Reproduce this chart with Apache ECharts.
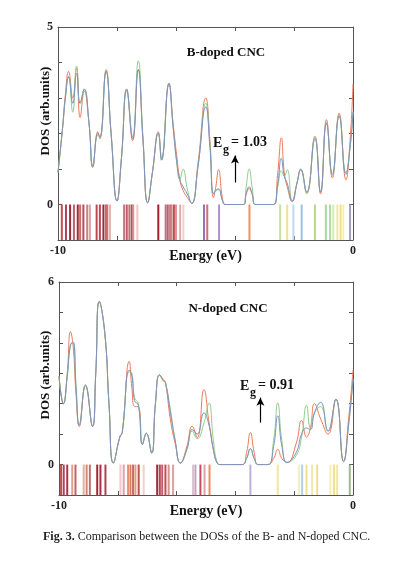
<!DOCTYPE html>
<html>
<head>
<meta charset="utf-8">
<script src="https://cdn.jsdelivr.net/npm/echarts@6/dist/echarts.min.js"></script>
<style>
  html, body { margin: 0; padding: 0; background: #fff; }
  #main { width: 397px; height: 561px; }
</style>
</head>
<body>
<div id="main"></div>
<script>
// ---- B-doped CNC: DOS curves (energy in eV, DOS in arb. units)
var eB = [-10, -9.84, -9.75, -9.64, -9.5, -9.37, -9.25, -9.11, -8.95, -8.82,
  -8.65, -8.58, -8.37, -8.2, -8.0, -7.85, -7.67, -7.47, -7.28, -7.12,
  -6.96, -6.8, -6.6, -6.49, -6.24, -6.1, -5.98, -5.87, -5.76, -5.62,
  -5.47, -5.25, -4.99, -4.85, -4.73, -4.65, -4.56, -4.42, -4.33, -3.71,
  -3.62, -3.52, -3.42, -3.3, -2.7, -2.55, -2.43, -2.33, -2.23, -2.06,
  -1.9, -1.77, -1.57, -1.29, -1.1, -0.9, -0.7, -0.47, -0.24, -0.1, 0];
var bRed = [0.9, 2.2, 3.1, 3.75, 3.0, 3.85, 2.45, 3.2, 2.3, 1.1,
  2.05, 1.85, 3.8, 2.0, 0.1, 1.3, 3.2, 1.8, 3.8, 1.8,
  0.05, 0.9, 2.05, 1.3, 3.42, 2.3, 1.4, 0.7, 0.4, 0.2,
  0.03, 1.2, 3.0, 1.8, 0.2, 0.5, 0.98, 0.15, 0, 0,
  0.3, 0.45, 0.3, 0, 0, 0.9, 1.88, 0.9, 0.5, 0.08,
  0.6, 0.98, 0.32, 1.92, 0.3, 2.39, 0.75, 2.57, 0.7, 1.8, 3.4];
var bGreen = [0.9, 2.2, 3.0, 3.6, 2.6, 3.9, 2.85, 3.25, 2.3, 1.05,
  1.95, 1.9, 3.75, 2.0, 0.1, 1.3, 3.25, 1.9, 4.05, 1.9,
  0.05, 0.9, 2.0, 1.25, 3.4, 2.2, 1.2, 0.7, 1.0, 0.45,
  0.03, 1.1, 2.85, 1.7, 0.3, 0.4, 0.45, 0.1, 0, 0,
  0.5, 1.0, 0.5, 0, 0, 0.5, 0.95, 0.8, 0.98, 0.1,
  0.6, 0.98, 0.3, 1.9, 0.35, 2.3, 0.8, 2.5, 0.9, 1.6, 2.6];
var bBlue = [0.9, 2.2, 3.0, 3.6, 2.85, 3.7, 2.85, 3.25, 2.3, 1.05,
  2.0, 1.9, 3.75, 2.0, 0.1, 1.3, 3.25, 1.85, 3.8, 1.85,
  0.05, 0.9, 2.0, 1.25, 3.4, 2.2, 1.25, 0.7, 0.5, 0.3,
  0.03, 1.1, 2.75, 1.6, 0.3, 0.4, 0.42, 0.1, 0, 0,
  0.3, 0.5, 0.3, 0, 0, 0.6, 1.3, 0.8, 0.6, 0.1,
  0.6, 1.0, 0.35, 1.85, 0.35, 2.3, 0.85, 2.5, 0.85, 1.6, 2.6];
// eigenvalue sticks
var stickB = [-9.87, -9.73, -9.59, -9.46, -9.33, -9.25, -9.14, -9.01, -8.92, -8.69,
  -8.58, -8.46, -8.37, -8.33, -8.24, -7.76, -7.67, -7.58, -7.5, -7.45,
  -7.31, -6.6, -6.35, -6.28, -6.2, -6.15, -6.07, -6.0, -5.86, -5.75,
  -5.05, -4.94, -4.54, -3.51, -2.47, -2.23, -2.02, -1.74, -1.29, -0.92,
  -0.78, -0.67, -0.53, -0.42, -0.33, -0.1];

// ---- N-doped CNC
var eN = [-10, -9.85, -9.72, -9.61, -9.52, -9.42, -9.31, -9.1, -8.86, -8.75,
  -8.63, -8.44, -8.3, -8.15, -7.93, -7.85, -7.61, -7.52, -7.43, -7.3,
  -7.16, -7.03, -6.85, -6.72, -6.58, -6.45, -6.38, -6.21, -6.05, -5.87,
  -5.65, -5.47, -5.3, -5.07, -4.9, -4.75, -4.62, -4.5, -3.77, -3.62,
  -3.49, -3.36, -3.22, -2.9, -2.7, -2.56, -2.42, -2.24, -1.93, -1.75,
  -1.58, -1.45, -1.31, -1.1, -0.85, -0.58, -0.32, -0.15, 0];
var nRed = [2.9, 2.0, 3.0, 4.37, 3.9, 2.3, 1.25, 2.62, 1.25, 3.0,
  5.36, 4.3, 2.0, 0.05, 0.93, 1.05, 3.39, 2.5, 1.91, 1.9,
  0.66, 1.03, 0.38, 2.0, 2.95, 2.8, 2.7, 1.47, 0.7, 0.05,
  0.6, 1.26, 0.88, 2.46, 1.4, 0.5, 0.05, 0, 0, 0.4,
  1.05, 0.4, 0, 0, 0.2, 0.5, 0.2, 0.07, 0.7, 1.45,
  0.9, 1.2, 2.0, 1.5, 1.0, 2.15, 0.1, 1.5, 3.1];
var nGreen = [2.9, 2.0, 2.9, 3.9, 4.04, 2.6, 1.3, 2.6, 1.25, 3.0,
  5.36, 4.3, 2.0, 0.05, 0.9, 1.05, 3.05, 3.0, 2.2, 2.0,
  0.66, 1.03, 0.38, 2.0, 2.95, 2.75, 2.7, 1.8, 0.8, 0.05,
  0.5, 1.1, 0.85, 1.37, 2.02, 0.8, 0.07, 0, 0, 0.2,
  0.52, 0.2, 0, 0, 0.8, 2.02, 0.8, 0.07, 0.3, 0.9,
  1.95, 1.2, 1.7, 1.9, 1.1, 2.15, 0.1, 1.3, 2.8];
var nBlue = [2.9, 2.0, 2.9, 3.95, 4.0, 2.5, 1.3, 2.6, 1.25, 3.0,
  5.36, 4.3, 2.0, 0.05, 0.9, 1.05, 3.1, 2.9, 2.1, 1.95,
  0.66, 1.03, 0.38, 2.0, 2.95, 2.75, 2.7, 1.7, 0.8, 0.05,
  0.5, 1.15, 1.0, 1.7, 1.3, 0.5, 0.05, 0, 0, 0.2,
  0.52, 0.2, 0, 0, 0.6, 1.6, 0.6, 0.07, 0.4, 1.0,
  1.2, 1.15, 1.7, 2.05, 1.1, 2.15, 0.1, 1.3, 2.8];
var stickN = [-9.93, -9.84, -9.72, -9.55, -9.44, -9.16, -9.06, -8.95, -8.7, -8.59,
  -8.42, -7.91, -7.8, -7.65, -7.57, -7.48, -7.4, -7.29, -7.12, -6.66,
  -6.57, -6.49, -6.38, -6.27, -6.12, -5.44, -5.36, -5.19, -5.05, -4.88,
  -3.49, -2.56, -1.84, -1.73, -1.58, -1.39, -1.22, -0.77, -0.65, -0.54, -0.11];

// tick labels that are shown
var xLabels = [-10, 0];
var yLabelsB = [0, 5];
var yLabelsN = [0, 6];

// stick colours (style, one per stick)
var stickColorsB = ['#c0504d', '#b04060', '#9c2a3a', '#c06070', '#9c2a3a', '#c87070', '#b84a5a', '#d08080', '#e0a0a0', '#c04850',
  '#b84a5a', '#9c2a3a', '#c06070', '#d07070', '#e8b0b0', '#c87878', '#b85a6a', '#c87070', '#c05050', '#d89090',
  '#f0c8c0', '#a02030', '#c07080', '#b86070', '#c87080', '#d08888', '#c05050', '#d89898', '#e8a8a8', '#f0d0c8',
  '#a070b0', '#d07070', '#b090d0', '#f09060', '#c8e0a0', '#f0e090', '#c0d8f0', '#a0c0e0', '#b8d890', '#a8d8a0',
  '#b0e0a0', '#d0f0b0', '#f0e8a0', '#f0e090', '#f8f0a8', '#a0a0c0'];
var stickColorsN = ['#c0504d', '#b04060', '#a83848', '#e0a090', '#c86060', '#e8b0a0', '#d08878', '#c07070', '#9c2a3a', '#a83040',
  '#b04050', '#f0c8c8', '#e0a0b0', '#e89070', '#d88068', '#c86860', '#e0a080', '#c05050', '#f0d0c8', '#a02838',
  '#b84858', '#c06070', '#c05050', '#d89090', '#e0a0a0', '#e0c0d0', '#c8a0c0', '#c05060', '#e0a0b0', '#e89060',
  '#c0b0d8', '#f0e8a0', '#f0f0c0', '#b0d0f0', '#f0e090', '#f0e8a8', '#f0e090', '#f8f0b0', '#f0e090', '#f0e8a0', '#a0b890'];

var serif = '"Liberation Serif", "Times New Roman", serif';
var frame = '#555';

function pairs(xs, ys) {
  return xs.map(function (x, i) { return [x, ys[i]]; });
}

function stickRender(colors) {
  return function (params, api) {
    var a = api.coord([api.value(0), 0]);
    var b = api.coord([api.value(0), -1]);
    return {
      type: 'line',
      shape: { x1: a[0], y1: a[1], x2: b[0], y2: b[1] },
      style: { stroke: colors[params.dataIndex], lineWidth: 2 }
    };
  };
}

function xAxisPair(gi) {
  return [{
    gridIndex: gi, type: 'value', min: -10, max: 0, interval: 2, position: 'bottom',
    axisLine: { show: true, onZero: false, lineStyle: { color: frame, width: 1 } },
    axisTick: { inside: true, length: 4, lineStyle: { color: frame } },
    splitLine: { show: false },
    axisLabel: {
      margin: 5, color: '#222', fontFamily: serif, fontWeight: 'bold', fontSize: 12,
      formatter: function (v) { return xLabels.indexOf(v) >= 0 ? String(v) : ''; }
    },
    name: 'Energy (eV)', nameLocation: 'middle', nameGap: 9, nameMoveOverlap: false,
    nameTextStyle: { color: '#111', fontFamily: serif, fontWeight: 'bold', fontSize: 14 }
  }, {
    gridIndex: gi, type: 'value', min: -10, max: 0, interval: 2, position: 'top',
    axisLine: { show: true, onZero: false, lineStyle: { color: frame, width: 1 } },
    axisTick: { inside: true, length: 4, lineStyle: { color: frame } },
    splitLine: { show: false }, axisLabel: { show: false }
  }];
}

function yAxisPair(gi, max, labels) {
  return [{
    gridIndex: gi, type: 'value', min: -1, max: max, interval: 1, position: 'left',
    axisLine: { show: true, onZero: false, lineStyle: { color: frame, width: 1 } },
    axisTick: { inside: true, length: 4, lineStyle: { color: frame } },
    splitLine: { show: false },
    axisLabel: {
      margin: 5, color: '#222', fontFamily: serif, fontWeight: 'bold', fontSize: 12,
      formatter: function (v) { return labels.indexOf(v) >= 0 ? String(v) : ''; }
    }
  }, {
    gridIndex: gi, type: 'value', min: -1, max: max, interval: 1, position: 'right',
    axisLine: { show: true, onZero: false, lineStyle: { color: frame, width: 1 } },
    axisTick: { inside: true, length: 4, lineStyle: { color: frame } },
    splitLine: { show: false }, axisLabel: { show: false }
  }];
}

function curve(name, xi, yi, data, color, arrow) {
  var s = {
    name: name, type: 'line', xAxisIndex: xi, yAxisIndex: yi,
    data: data, smooth: 0.5, showSymbol: false, symbol: 'none',
    lineStyle: { color: color, width: 1 }, animation: false, z: 3
  };
  if (arrow) {
    s.markLine = {
      silent: true, symbol: ['none', 'arrow'], symbolSize: [6, 8], animation: false,
      label: { show: false },
      lineStyle: { color: '#000', width: 1.2, type: 'solid' },
      data: [[{ coord: arrow[0] }, { coord: arrow[1] }]]
    };
  }
  return s;
}

function txt(x, y, text, size, align, rot) {
  return {
    type: 'text', x: x, y: y, rotation: rot || 0, silent: true,
    style: {
      text: text, fill: '#111', align: align || 'left', verticalAlign: 'middle',
      font: 'bold ' + size + 'px ' + serif
    }
  };
}

var myChart = echarts.init(document.getElementById('main'), null, { renderer: 'canvas' });

var option = {
  backgroundColor: '#fff',
  animation: false,
  grid: [
    { left: 58, top: 27, width: 295, height: 213 },
    { left: 59, top: 282, width: 294, height: 213 }
  ],
  xAxis: xAxisPair(0).concat(xAxisPair(1)),
  yAxis: yAxisPair(0, 5, yLabelsB).concat(yAxisPair(1, 6, yLabelsN)),
  series: [
    { type: 'custom', xAxisIndex: 0, yAxisIndex: 0, renderItem: stickRender(stickColorsB),
      data: stickB.map(function (e) { return [e, 0]; }), encode: { x: 0, y: 1 }, z: 2 },
    curve('B red', 0, 0, pairs(eB, bRed), '#ee7a5c', [[-4.0, 0.62], [-4.0, 1.38]]),
    curve('B green', 0, 0, pairs(eB, bGreen), '#8fcf8a'),
    curve('B blue', 0, 0, pairs(eB, bBlue), '#8090c0'),
    { type: 'custom', xAxisIndex: 2, yAxisIndex: 2, renderItem: stickRender(stickColorsN),
      data: stickN.map(function (e) { return [e, 0]; }), encode: { x: 0, y: 1 }, z: 2 },
    curve('N red', 2, 2, pairs(eN, nRed), '#ee7a5c', [[-3.15, 1.38], [-3.15, 2.2]]),
    curve('N green', 2, 2, pairs(eN, nGreen), '#8fcf8a'),
    curve('N blue', 2, 2, pairs(eN, nBlue), '#8090c0')
  ],
  graphic: [
    txt(46, 111, 'DOS (arb.units)', 13, 'center', Math.PI / 2),
    txt(46, 375, 'DOS (arb.units)', 13, 'center', Math.PI / 2),
    txt(226, 53, 'B-doped CNC', 13, 'center'),
    txt(228, 309, 'N-doped CNC', 13, 'center'),
    txt(213, 143, 'E', 14),
    txt(223, 150, 'g', 12),
    txt(231, 142, '= 1.03', 14),
    txt(240, 386, 'E', 14),
    txt(250, 393, 'g', 12),
    txt(258, 385, '= 0.91', 14),
    {
      type: 'text', x: 43, y: 537, silent: true,
      style: {
        text: '{b|Fig. 3.} Comparison between the DOSs of the B- and N-doped CNC.',
        fill: '#222', verticalAlign: 'middle', font: '12px ' + serif,
        rich: { b: { fontFamily: serif, fontWeight: 'bold', fontSize: 12, fill: '#222' } }
      }
    }
  ]
};

window.onresize = function () {
  myChart.resize();
};

if (option && typeof option === 'object') {
  myChart.setOption(option);
}
</script>
</body>
</html>
